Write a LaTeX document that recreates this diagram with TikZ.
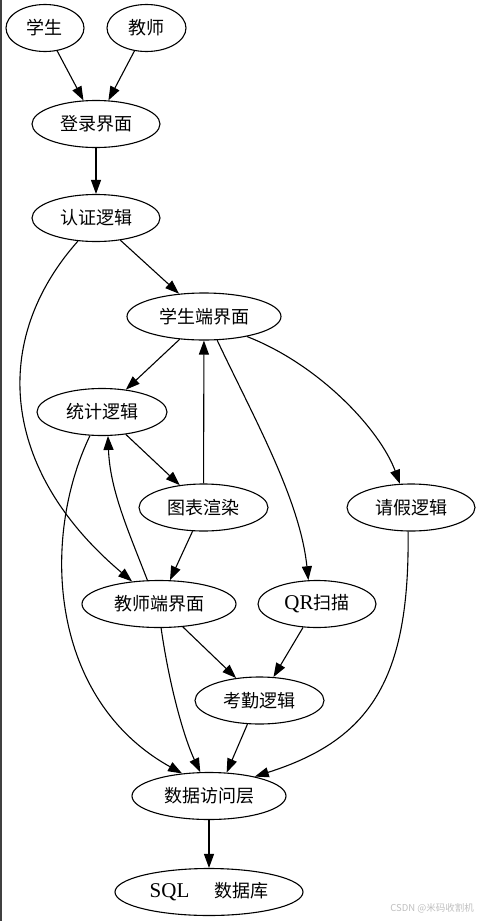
\documentclass[tikz,border=0pt]{standalone}
\usepackage{fontspec}
\setmainfont{Liberation Serif}
\newfontfamily\cjk{Noto Sans CJK SC}
\usetikzlibrary{shapes.geometric,arrows.meta}
\begin{document}
\begin{tikzpicture}[x=1pt,y=-1pt,
  nd/.style={draw, ellipse, line width=1.1pt, inner sep=0pt, minimum height=47pt, font=\fontsize{18}{18}\selectfont\cjk},
  edge/.style={line width=1.1pt, -{Triangle[length=14pt,width=10pt]}},
  lat/.style={font=\fontsize{21}{21}\selectfont\rmfamily}]
\useasboundingbox (0,0) rectangle (477,921);
\draw[line width=1.6pt, black!75] (0.8,0) -- (0.8,921);

\node[nd, minimum width=78pt] (stu) at (45,28) {学生};
\node[nd, minimum width=79pt] (tea) at (146.5,28) {教师};
\node[nd, minimum width=128pt] (login) at (96,124) {登录界面};
\node[nd, minimum width=128pt] (auth) at (96,218) {认证逻辑};
\node[nd, minimum width=154pt] (sui) at (204,316.5) {学生端界面};
\node[nd, minimum width=130pt] (stat) at (102,412) {统计逻辑};
\node[nd, minimum width=129pt] (chart) at (203.5,507.5) {图表渲染};
\node[nd, minimum width=128pt] (leave) at (411,507.5) {请假逻辑};
\node[nd, minimum width=154pt] (tui) at (159,604) {教师端界面};
\node[nd, minimum width=118pt] (qr) at (317,604) {{\fontsize{21}{21}\selectfont\rmfamily QR}扫描};
\node[nd, minimum width=129pt] (att) at (259.5,700.5) {考勤逻辑};
\node[nd, minimum width=154pt] (dal) at (209,796) {数据访问层};
\node[nd, minimum width=188pt] (db) at (209,892) {{\fontsize{21}{21}\selectfont\rmfamily SQL}\hspace{25pt}数据库};
\node[anchor=east, text=black!25, inner sep=0pt, font=\fontsize{9.5}{9.5}\selectfont\cjk] (wm) at (474,908) {CSDN @米码收割机};

\draw[edge] (stu) -- (login);
\draw[edge] (tea) -- (login);
\draw[edge] (login) -- (auth);
\draw[edge] (auth) -- (sui);
\draw[edge] (auth.232) .. controls (-10,340) and (0,470) .. (tui.140);
\draw[edge] (sui) -- (stat);
\draw[edge] (sui.299) .. controls (255,420) and (300,500) .. (qr.110);
\draw[edge] (sui.335) .. controls (320,365) and (380,430) .. (leave.115);
\draw[edge] (stat) -- (chart);
\draw[edge] (stat.243) .. controls (40,540) and (50,700) .. (dal.140);
\draw[edge] (chart) -- (sui);
\draw[edge] (chart) -- (tui);
\draw[edge] (tui.116) .. controls (128,530) and (110,490) .. (stat.284);
\draw[edge] (tui) -- (att);
\draw[edge] (tui.275) .. controls (170,690) and (185,740) .. (dal.110);
\draw[edge] (qr) -- (att);
\draw[edge] (att.243) -- (dal.53);
\draw[edge] (leave.263) .. controls (410,680) and (370,740) .. (dal.23);
\draw[edge] (dal) -- (db);
\end{tikzpicture}
\end{document}
